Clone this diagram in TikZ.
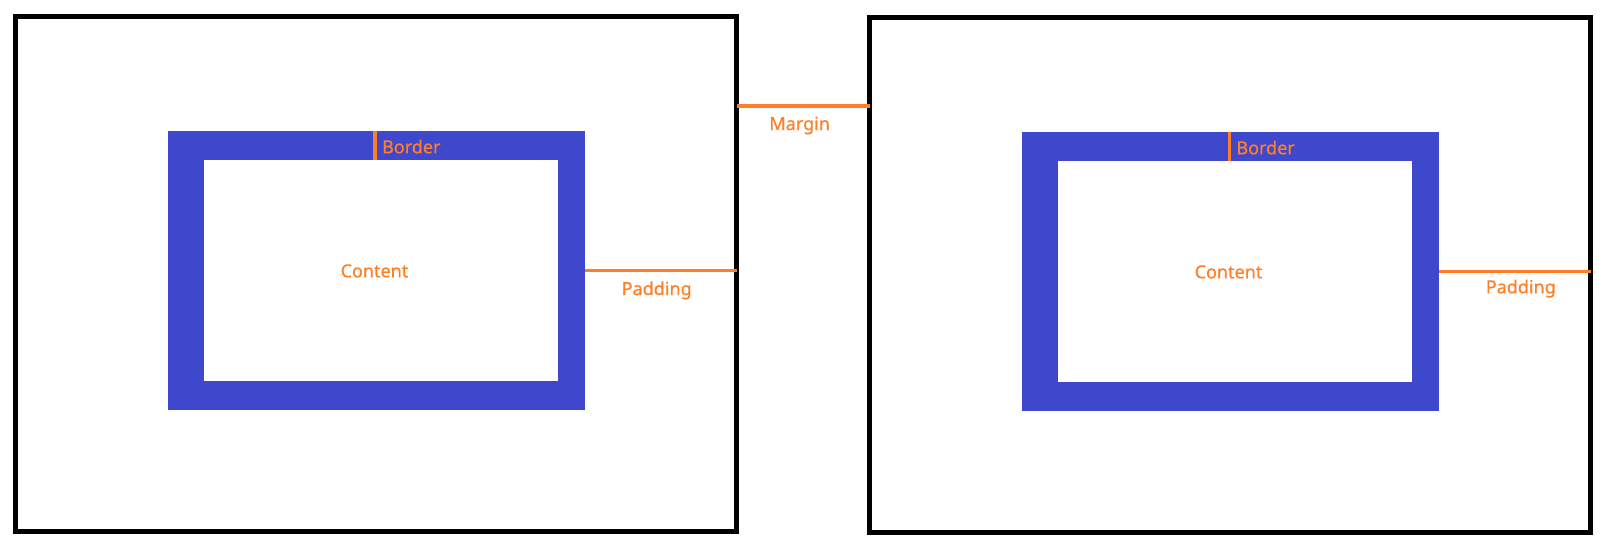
\documentclass[tikz,border=0pt]{standalone}
\usepackage{fontspec}
\setmainfont{Noto Sans}
\newfontface\lblfont{Noto Sans}[FakeBold=0.5]
\definecolor{boxblue}{RGB}{63,72,204}
\definecolor{markorange}{RGB}{255,127,39}
\tikzset{
  outerbox/.style={draw=black, line width=5pt, fill=none, inner sep=0pt, outer sep=0pt},
  borderbox/.style={fill=boxblue, draw=none, inner sep=0pt, outer sep=0pt},
  contentbox/.style={fill=white, draw=none, inner sep=0pt, outer sep=0pt},
  marker/.style={draw=markorange, line width=3.2pt},
  lbl/.style={text=markorange, font=\lblfont\fontsize{18}{20}\selectfont, inner sep=0pt, anchor=base}
}
\begin{document}
\begin{tikzpicture}[x=1pt,y=-1pt]
\useasboundingbox[fill=white] (0,0) rectangle (1609,547);
% left box
\node[outerbox, minimum width=721pt, minimum height=515pt] (lout) at (376,274) {};
\node[borderbox, minimum width=417pt, minimum height=279pt] (lblue) at (376.5,270.5) {};
\node[contentbox, minimum width=354pt, minimum height=221pt] (lcont) at (381,270.5) {};
% right box
\node[outerbox, minimum width=721pt, minimum height=515pt] (rout) at (1230,275) {};
\node[borderbox, minimum width=417pt, minimum height=279pt] (rblue) at (1230.5,271.5) {};
\node[contentbox, minimum width=354pt, minimum height=221pt] (rcont) at (1235,271.5) {};
% coordinates for markers
\coordinate (lbt) at (375,131);
\coordinate (lbb) at (375,160);
\coordinate (rbt) at (1229.3,132);
\coordinate (rbb) at (1229.3,161);
\coordinate (lpa) at (585,270.3);
\coordinate (lpb) at (736.5,270.3);
\coordinate (rpa) at (1439,271.3);
\coordinate (rpb) at (1590.7,271.3);
\coordinate (ma) at (736.5,106);
\coordinate (mb) at (869.5,106);
\draw[marker] (lbt) -- (lbb);
\draw[marker] (rbt) -- (rbb);
\draw[marker] (lpa) -- (lpb);
\draw[marker] (rpa) -- (rpb);
\draw[marker] (ma) -- (mb);
% labels
\node[lbl] (lborder) at (411.3,153.3) {Border};
\node[lbl] (rborder) at (1265.6,154.3) {Border};
\node[lbl] (lcontent) at (374.5,277.3) {Content};
\node[lbl] (rcontent) at (1228.5,278.3) {Content};
\node[lbl] (lpad) at (656.7,295) {Padding};
\node[lbl] (rpad) at (1520.8,293.3) {Padding};
\node[lbl] (margin) at (799.7,130) {Margin};
\end{tikzpicture}
\end{document}
